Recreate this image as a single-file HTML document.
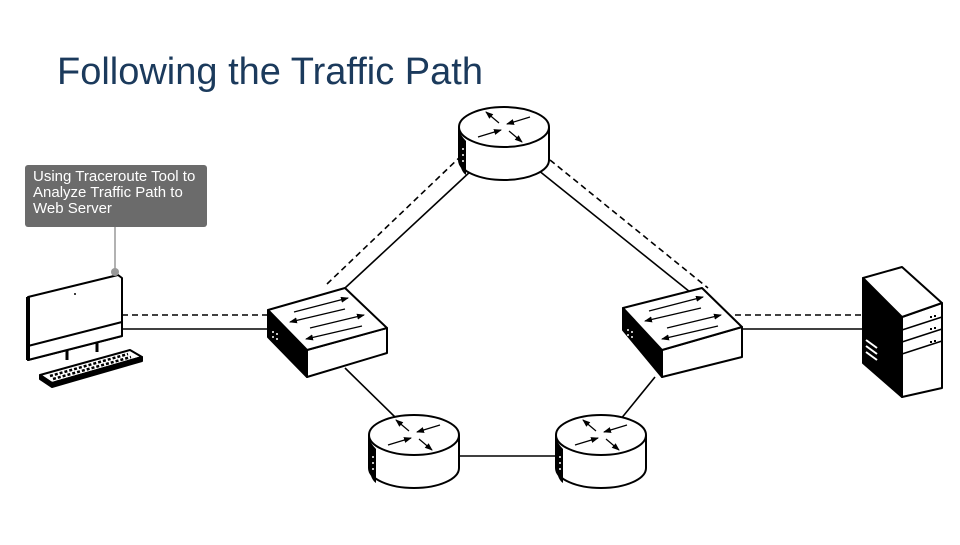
<!DOCTYPE html>
<html><head><meta charset="utf-8"><style>
body{margin:0;width:960px;height:540px;background:#fff;overflow:hidden;font-family:"Liberation Sans",sans-serif}
</style></head><body>
<svg width="960" height="540" viewBox="0 0 960 540" xmlns="http://www.w3.org/2000/svg">
<defs>
<marker id="ah" markerWidth="8" markerHeight="6" refX="7" refY="3" orient="auto" markerUnits="userSpaceOnUse"><path d="M0,0 L8,3 L0,6 Z" fill="#000"/></marker>
<g id="router">
 <path d="M-45,0 L-45,33 A45,20 0 0 0 45,33 L45,0" fill="#fff" stroke="#000" stroke-width="2"/>
 <path d="M-45,2 L-45,33 Q-43,45 -38,48 L-38,14 Q-44,8 -45,2Z" fill="#000"/>
 <circle cx="-41" cy="22" r="1" fill="#fff"/><circle cx="-41" cy="28" r="1" fill="#fff"/><circle cx="-41" cy="34" r="1" fill="#fff"/>
 <ellipse cx="0" cy="0" rx="45" ry="20" fill="#fff" stroke="#000" stroke-width="2"/>
 <line x1="-5" y1="-4" x2="-18" y2="-15" stroke="#000" stroke-width="1.2" marker-end="url(#ah)"/>
 <line x1="5" y1="4" x2="18" y2="15" stroke="#000" stroke-width="1.2" marker-end="url(#ah)"/>
 <line x1="-26" y1="10" x2="-3" y2="3" stroke="#000" stroke-width="1.2" marker-end="url(#ah)"/>
 <line x1="26" y1="-10" x2="3" y2="-3" stroke="#000" stroke-width="1.2" marker-end="url(#ah)"/>
</g>
</defs>
<text x="57" y="84" font-size="38" fill="#1b3a5c">Following the Traffic Path</text>

<g stroke="#000" stroke-width="1.6" fill="none">
<line x1="122" y1="329" x2="268" y2="329"/>
<line x1="742" y1="329" x2="863" y2="329"/>
<line x1="345" y1="288" x2="472" y2="170"/>
<line x1="538" y1="170" x2="690" y2="292"/>
<line x1="345" y1="368" x2="396" y2="418"/>
<line x1="620" y1="420" x2="655" y2="377"/>
<line x1="459" y1="456" x2="556" y2="456"/>
</g>
<g stroke="#000" stroke-width="1.6" fill="none" stroke-dasharray="6,4">
<line x1="122" y1="315" x2="268" y2="315"/>
<line x1="735" y1="315" x2="863" y2="315"/>
<line x1="327" y1="284" x2="460" y2="157"/>
<line x1="550" y1="160" x2="708" y2="288"/>
</g>

<use href="#router" x="504" y="127"/>
<use href="#router" x="414" y="435"/>
<use href="#router" x="601" y="435"/>

<g stroke="#000" stroke-width="2" stroke-linejoin="round">
<path d="M268,310 L307,350 L307,377 L268,337Z" fill="#000"/>
<path d="M307,350 L387,328 L387,353 L307,377Z" fill="#fff"/>
<path d="M268,310 L345,288 L387,328 L307,350Z" fill="#fff"/>
</g>
<g fill="#fff"><circle cx="273" cy="332" r="1"/><circle cx="277" cy="334" r="1"/><circle cx="273" cy="337" r="1"/><circle cx="277" cy="339" r="1"/></g>
<g stroke="#000" stroke-width="1.2">
<line x1="294" y1="312" x2="348" y2="298" marker-end="url(#ah)"/>
<line x1="345" y1="309" x2="290" y2="322" marker-end="url(#ah)"/>
<line x1="310" y1="328" x2="364" y2="315" marker-end="url(#ah)"/>
<line x1="362" y1="326" x2="306" y2="339" marker-end="url(#ah)"/>
</g>

<g stroke="#000" stroke-width="2" stroke-linejoin="round">
<path d="M623,308 L662,350 L662,377 L623,330Z" fill="#000"/>
<path d="M662,350 L742,327 L742,357 L662,377Z" fill="#fff"/>
<path d="M623,308 L702,288 L742,327 L662,350Z" fill="#fff"/>
</g>
<g fill="#fff"><circle cx="628" cy="330" r="1"/><circle cx="632" cy="332" r="1"/><circle cx="628" cy="335" r="1"/><circle cx="632" cy="337" r="1"/></g>
<g stroke="#000" stroke-width="1.2">
<line x1="649" y1="311" x2="703" y2="297" marker-end="url(#ah)"/>
<line x1="701" y1="308" x2="645" y2="321" marker-end="url(#ah)"/>
<line x1="667" y1="328" x2="721" y2="315" marker-end="url(#ah)"/>
<line x1="718" y1="326" x2="662" y2="339" marker-end="url(#ah)"/>
</g>

<g stroke="#000" stroke-width="2" stroke-linejoin="round">
<path d="M863,278 L902,317 L902,397 L863,363Z" fill="#000"/>
<path d="M902,317 L942,303 L942,388 L902,397Z" fill="#fff"/>
<path d="M863,278 L902,267 L942,303 L902,317Z" fill="#fff"/>
</g>
<g stroke="#000" stroke-width="1.5"><line x1="902" y1="330" x2="942" y2="317"/><line x1="902" y1="342" x2="942" y2="329"/><line x1="902" y1="354" x2="942" y2="341"/></g>
<g fill="#000"><rect x="930" y="316" width="2" height="2"/><rect x="934" y="315" width="2" height="2"/><rect x="930" y="328" width="2" height="2"/><rect x="934" y="327" width="2" height="2"/><rect x="930" y="341" width="2" height="2"/><rect x="934" y="340" width="2" height="2"/></g>
<g stroke="#fff" stroke-width="2"><line x1="866" y1="340" x2="877" y2="348"/><line x1="866" y1="346" x2="877" y2="354"/><line x1="866" y1="352" x2="877" y2="360"/></g>

<g stroke="#000" stroke-width="2" stroke-linejoin="round">
<path d="M28,297 L118,275 L122,278 L122,336 L28,360 Z" fill="#fff"/>
<path d="M28,346 L122,322 L122,336 L28,360Z" fill="#fff"/>
<line x1="28" y1="297" x2="28" y2="360" stroke-width="4"/>
<line x1="67" y1="350" x2="67" y2="360" stroke-width="3"/>
<line x1="97" y1="343" x2="97" y2="352" stroke-width="3"/>
<path d="M40,375 L130,350 L142,357 L52,383 Z" fill="#fff"/>
<path d="M40,375 L40,379 L52,387 L142,361 L142,357 L52,383Z" fill="#000"/>
</g>
<circle cx="75" cy="294" r="1" fill="#000"/>
<g stroke="#000" stroke-width="2.5" stroke-dasharray="3,2">
<line x1="50" y1="376" x2="128" y2="354"/><line x1="53" y1="379" x2="131" y2="357"/><line x1="56" y1="382" x2="134" y2="360"/>
</g>

<line x1="115" y1="227" x2="115" y2="272" stroke="#999" stroke-width="1.5"/>
<circle cx="115" cy="272" r="4" fill="#999"/>
<rect x="25" y="165" width="182" height="62" rx="3" fill="#6b6b6b"/>
<text font-size="15" fill="#fff"><tspan x="33" y="181">Using Traceroute Tool to</tspan><tspan x="33" y="197">Analyze Traffic Path to</tspan><tspan x="33" y="213">Web Server</tspan></text>
</svg>
</body></html>
